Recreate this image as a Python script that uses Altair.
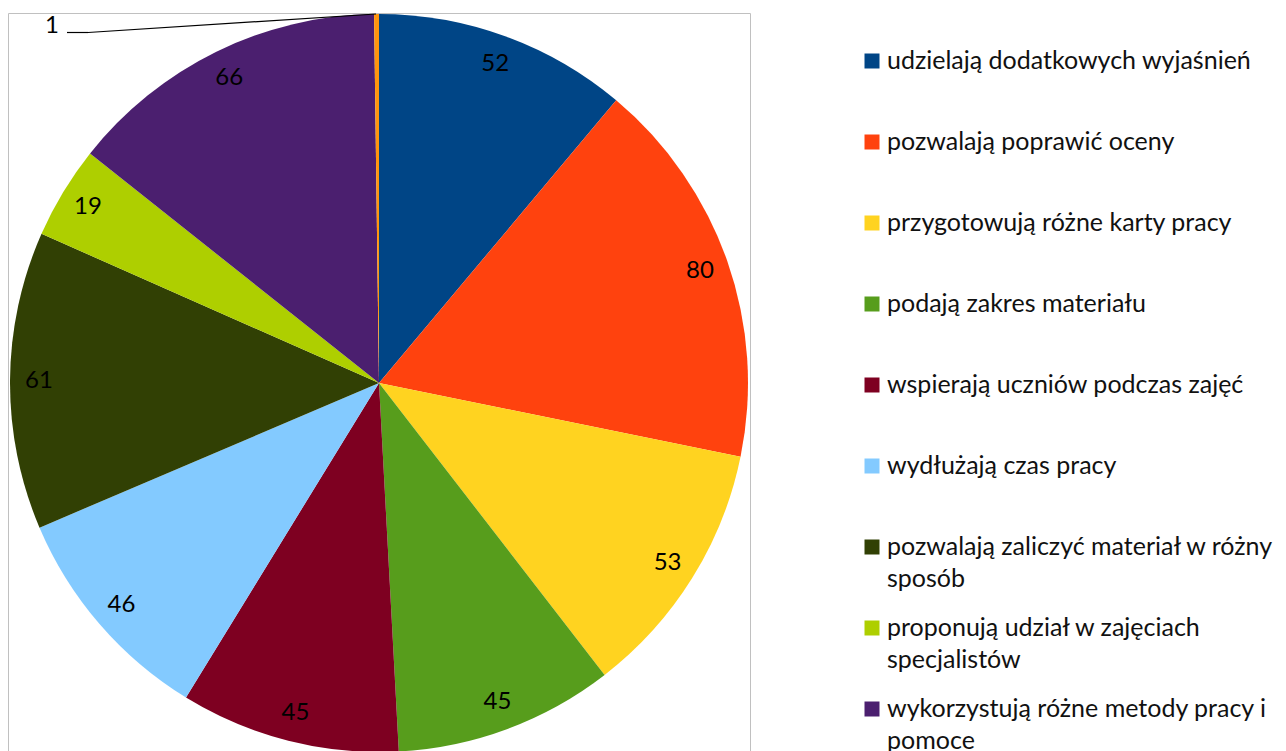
import altair as alt
import pandas as pd

categories = [
    "udzielają dodatkowych wyjaśnień",
    "pozwalają poprawić oceny",
    "przygotowują różne karty pracy",
    "podają zakres materiału",
    "wspierają uczniów podczas zajęć",
    "wydłużają czas pracy",
    "pozwalają zaliczyć materiał w różny\nsposób",
    "proponują udział w zajęciach\nspecjalistów",
    "wykorzystują różne metody pracy i\npomoce",
    "inne",
]
values = [52, 80, 53, 45, 45, 46, 61, 19, 66, 1]
colors = ["#004586", "#ff420e", "#ffd320", "#579d1c", "#7e0021",
          "#83caff", "#314004", "#aecf00", "#4b1f6f", "#ff950e"]

df = pd.DataFrame({"kategoria": categories, "wartosc": values,
                   "idx": list(range(len(values)))})

FONT = "Lato"
CX, CY, R = 371, 375, 369

base = alt.Chart(df)

color = alt.Color("kategoria:N", scale=alt.Scale(domain=categories, range=colors), legend=None)
theta = alt.Theta("wartosc:Q", stack=True)
order = alt.Order("idx:Q")

frame = base.transform_filter("datum.idx == 0").mark_rect(
    fill=None, stroke="#c0c0c0", strokeWidth=1
).encode(x=alt.value(0.5), x2=alt.value(742.5), y=alt.value(5.5), y2=alt.value(1000))

pie = base.mark_arc(outerRadius=R).encode(
    theta=theta, color=color, order=order,
    x=alt.value(CX), y=alt.value(CY)
)

labels = base.mark_text(radius=340, font=FONT, fontSize=24, color="#000000").encode(
    theta=theta, order=order, text=alt.condition("datum.wartosc > 1", "wartosc:Q", alt.value("")),
    x=alt.value(CX), y=alt.value(CY)
)

small = base.transform_filter("datum.wartosc == 1").mark_text(
    font=FONT, fontSize=24, color="#000000", align="center", baseline="middle"
).encode(text="wartosc:Q", x=alt.value(44), y=alt.value(18))

lead1 = base.transform_filter("datum.idx == 0").mark_rule(color="#000000", strokeWidth=1.2).encode(
    x=alt.value(59), x2=alt.value(80), y=alt.value(24.5), y2=alt.value(24.5))
lead2 = base.transform_filter("datum.idx == 0").mark_rule(color="#000000", strokeWidth=1.2).encode(
    x=alt.value(80), x2=alt.value(368), y=alt.value(24.5), y2=alt.value(6))

ypos = alt.Y("kategoria:N", sort=categories,
             scale=alt.Scale(type="point", domain=categories, range=[53, 782], padding=0),
             axis=None)

leg_sq = base.mark_square(size=225, opacity=1).encode(
    x=alt.value(864), y=ypos, color=color
)
leg_tx = base.mark_text(font=FONT, fontSize=25, color="#111111", align="left",
                        baseline="alphabetic", dy=8, lineBreak="\n", lineHeight=32).encode(
    x=alt.value(879), y=ypos, text="kategoria:N"
)

chart = alt.layer(frame, pie, labels, small, lead1, lead2, leg_sq, leg_tx).properties(
    width=1265, height=745, padding=0
).configure_view(stroke=None)

chart.save("out.html", embed_options={"renderer": "svg", "actions": False})
